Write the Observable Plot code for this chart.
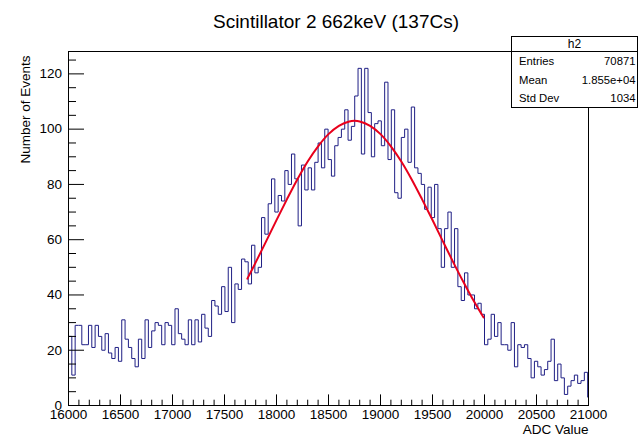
<!DOCTYPE html>
<html><head><meta charset="utf-8">
<script src="https://cdn.jsdelivr.net/npm/d3@7"></script>
<script src="https://cdn.jsdelivr.net/npm/@observablehq/plot@0.6"></script>
<style>
body{margin:0;background:#fff;}
#wrap{position:relative;width:639px;height:438px;font-family:"Liberation Sans",Arial,sans-serif;}
#stats{position:absolute;left:511px;top:36px;width:127px;height:72px;box-sizing:border-box;border:1px solid #000;background:#fff;font-size:11.3px;color:#000;}
#stats .hd{height:14px;border-bottom:1px solid #000;text-align:center;font-size:12px;line-height:15px;}
#stats .row{display:flex;justify-content:space-between;padding:0 1.5px 0 7px;height:18.5px;line-height:18.5px;}
</style></head><body><div id="wrap"></div>
<script>
// Histogram h2: ADC values, 32-unit bins starting at 16000
const binLow = 16000;
const binWidth = 32;
const counts = [
  25, 11, 29, 29, 22, 22, 29, 21, 29, 25,
  20, 26, 19, 17, 21, 16, 31, 24, 21, 17,
  14, 24, 17, 31, 21, 27, 30, 29, 22, 30,
  29, 22, 35, 26, 24, 22, 31, 22, 31, 23,
  33, 28, 25, 38, 36, 33, 43, 34, 50, 30,
  44, 42, 53, 52, 44, 58, 48, 50, 68, 62,
  73, 82, 70, 76, 74, 85, 80, 91, 82, 65,
  87, 78, 86, 78, 88, 95, 86, 100, 89, 83,
  94, 97, 100, 107, 96, 101, 112, 122, 91, 122,
  106, 90, 102, 103, 94, 117, 89, 107, 77, 75,
  97, 100, 88, 108, 86, 84, 80, 71, 79, 68,
  80, 64, 50, 64, 70, 50, 64, 43, 38, 48,
  40, 40, 35, 37, 33, 22, 24, 33, 25, 30,
  22, 22, 20, 30, 14, 22, 21, 22, 17, 10,
  16, 14, 11, 13, 16, 24, 9, 15, 10, 4,
  7, 9, 11, 8, 9, 12, 3
];
// Fit curve (red)
const fitX = [17720, 17800, 17900, 18000, 18100, 18200, 18300, 18400, 18500, 18600, 18700, 18750,
              18800, 18900, 19000, 19100, 19200, 19300, 19400, 19500, 19600, 19700, 19800, 19900, 19990];
const fitY = [45.9, 51.8, 59.4, 67.1, 74.6, 81.8, 88.3, 93.8, 98.2, 101.2, 102.8, 103,
              102.8, 101.2, 98.2, 93.8, 88.3, 81.8, 74.6, 67.1, 59.4, 51.8, 44.5, 37.6, 31.9];
const xMajor = [16000, 16500, 17000, 17500, 18000, 18500, 19000, 19500, 20000, 20500, 21000];
const yMajor = [0, 20, 40, 60, 80, 100, 120];
const xMinor = d3.range(16000, 21001, 100).filter(v => v % 500 !== 0);
const yMinor = d3.range(0, 128, 5).filter(v => v % 20 !== 0);
const title = "Scintillator 2 662keV (137Cs)";
const xTitle = "ADC Value";
const yTitle = "Number of Events";
const statsName = "h2";
const statsRows = [["Entries", "70871"], ["Mean", "1.855e+04"], ["Std Dev", "1034"]];

const hist = counts.map((c, i) => ({x: binLow + i * binWidth, y: c}));
hist.push({x: binLow + counts.length * binWidth, y: counts[counts.length - 1]});
const fit = fitX.map((x, i) => ({x, y: fitY[i]}));

const plot = Plot.plot({
  width: 639, height: 438,
  marginLeft: 68, marginRight: 51, marginTop: 51, marginBottom: 33,
  style: {fontFamily: "'Liberation Sans', Arial, sans-serif", fontSize: "13.5px", background: "white", color: "black"},
  x: {domain: [16000, 21000], label: null},
  y: {domain: [0, 128.1], label: null},
  marks: [
    Plot.line(hist, {x: "x", y: "y", curve: "step-after", stroke: "#1f1f85", strokeWidth: 1, clip: true}),
    Plot.line(fit, {x: "x", y: "y", curve: "catmull-rom", stroke: "#e8001c", strokeWidth: 2}),
    Plot.frame({stroke: "black"}),
    Plot.axisX({ticks: xMajor, tickSize: -10.6, tickPadding: 14.8, tickFormat: d => String(d), fontSize: 13.5, label: null}),
    Plot.axisX({ticks: xMinor, tickSize: -5.3, tickFormat: () => "", label: null}),
    Plot.axisY({ticks: yMajor, tickSize: -16, tickPadding: 22.5, tickFormat: d => String(d), fontSize: 13.5, label: null}),
    Plot.axisY({ticks: yMinor, tickSize: -8, tickFormat: () => "", label: null}),
    Plot.text([title], {frameAnchor: "top", text: d => d, dx: 7.5, dy: -24, lineAnchor: "bottom", fontSize: 19}),
    Plot.text([xTitle], {frameAnchor: "bottom-right", text: d => d, textAnchor: "end", dy: 28, fontSize: 13.5}),
    Plot.text([yTitle], {frameAnchor: "top-left", text: d => d, textAnchor: "end", rotate: -90, dx: -48, dy: 4, fontSize: 13.5})
  ]
});
const wrap = document.getElementById("wrap");
wrap.appendChild(plot);
const stats = document.createElement("div");
stats.id = "stats";
stats.innerHTML = `<div class="hd">${statsName}</div>` +
  statsRows.map(([k, v]) => `<div class="row"><span>${k}</span><span>${v}</span></div>`).join("");
wrap.appendChild(stats);
</script>
</body></html>
